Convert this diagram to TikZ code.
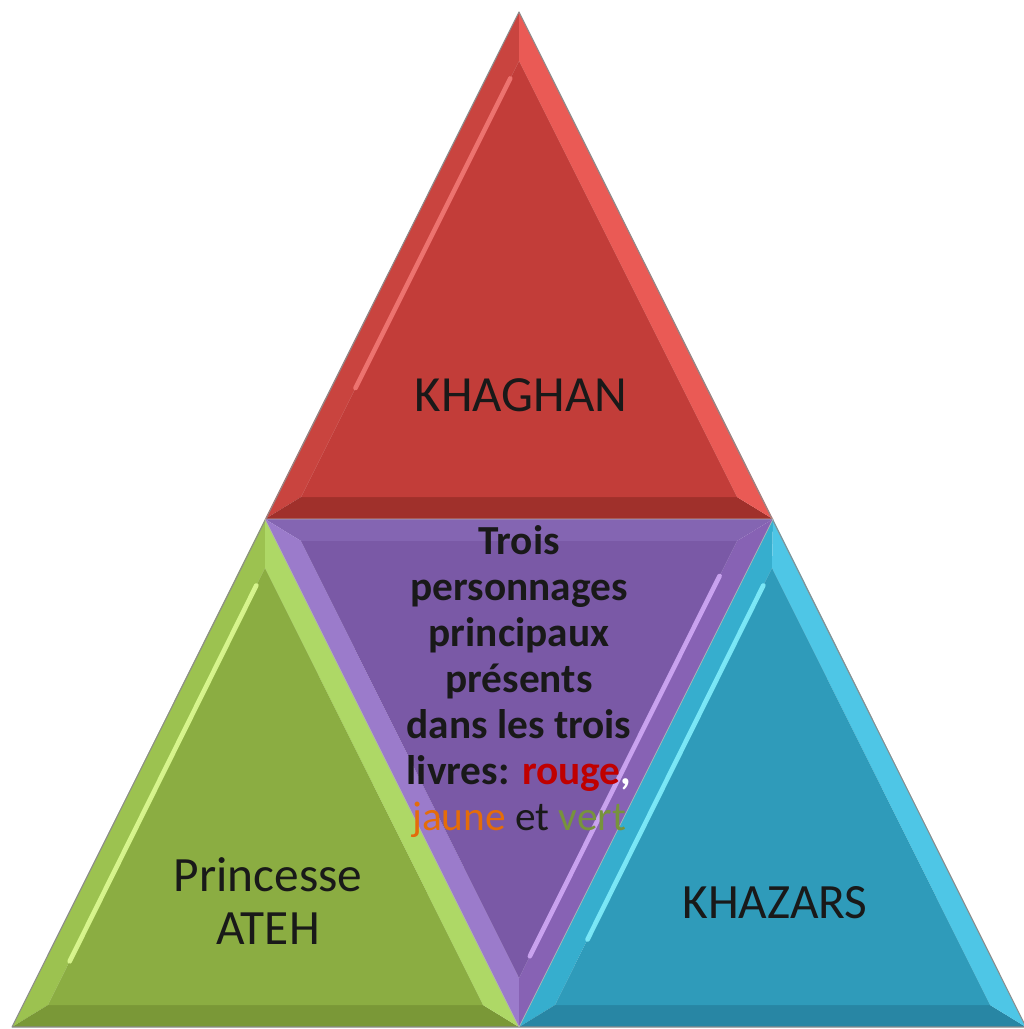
\documentclass[tikz,border=0pt]{standalone}
\usepackage{fontspec}
\setmainfont{Carlito}
\usetikzlibrary{calc}
\begin{document}
\begin{tikzpicture}[x=0.75pt,y=-0.75pt,
  lbl/.style={align=center,text=black!90,inner sep=0pt},
  hl/.style={line width=3.5pt,line cap=round,opacity=0.85}]
\useasboundingbox (0,0) rectangle (1024,1029);
% colours
\definecolor{rIn}{HTML}{C23D39}\definecolor{rL}{HTML}{C9443F}\definecolor{rR}{HTML}{EA5A55}\definecolor{rB}{HTML}{A0302B}\definecolor{rH}{HTML}{F47C78}
\definecolor{gIn}{HTML}{8BAD42}\definecolor{gL}{HTML}{9CC250}\definecolor{gR}{HTML}{AED866}\definecolor{gB}{HTML}{7A9837}\definecolor{gH}{HTML}{E2FF98}
\definecolor{pIn}{HTML}{7A59A6}\definecolor{pT}{HTML}{8465B2}\definecolor{pL}{HTML}{9B7BCB}\definecolor{pR}{HTML}{8762B4}\definecolor{pH}{HTML}{D5AEFA}
\definecolor{cIn}{HTML}{2F9BBA}\definecolor{cL}{HTML}{36AECE}\definecolor{cR}{HTML}{4EC6E6}\definecolor{cB}{HTML}{2886A4}\definecolor{cH}{HTML}{86F2FF}
\definecolor{tRed}{HTML}{C00000}\definecolor{tOr}{HTML}{E46C0A}\definecolor{tGr}{HTML}{77933C}
% outer points
\coordinate (A) at (519,12);
\coordinate (L) at (265,519);
\coordinate (R) at (773,519);
\coordinate (BL) at (12,1027);
\coordinate (BM) at (519,1027);
\coordinate (BR) at (1026,1027);
% inner points
\coordinate (Ra) at (519,61); \coordinate (Rl) at (301,497); \coordinate (Rr) at (737,497);
\coordinate (Ga) at (265,568); \coordinate (Gl) at (48,1005); \coordinate (Gr) at (483,1005);
\coordinate (Ca) at (772,568); \coordinate (Cl) at (555,1005); \coordinate (Cr) at (990,1005);
\coordinate (Pl) at (301,541); \coordinate (Pr) at (737,541); \coordinate (Pb) at (519,978);
% red
\fill[rL] (A)--(L)--(Rl)--(Ra)--cycle;
\fill[rB] (L)--(R)--(Rr)--(Rl)--cycle;
\fill[rR] (R)--(A)--(Ra)--(Rr)--cycle;
\fill[rIn] (Ra)--(Rl)--(Rr)--cycle;
\draw[hl,rH] ($(Ra)!0.04!(Rl)$) -- ($(Ra)!0.75!(Rl)$);
% green
\fill[gL] (L)--(BL)--(Gl)--(Ga)--cycle;
\fill[gB] (BL)--(BM)--(Gr)--(Gl)--cycle;
\fill[gR] (BM)--(L)--(Ga)--(Gr)--cycle;
\fill[gIn] (Ga)--(Gl)--(Gr)--cycle;
\draw[hl,gH] ($(Ga)!0.04!(Gl)$) -- ($(Ga)!0.9!(Gl)$);
% purple
\fill[pT] (L)--(R)--(Pr)--(Pl)--cycle;
\fill[pL] (L)--(BM)--(Pb)--(Pl)--cycle;
\fill[pR] (R)--(BM)--(Pb)--(Pr)--cycle;
\fill[pIn] (Pl)--(Pr)--(Pb)--cycle;
\draw[hl,pH] ($(Pr)!0.08!(Pb)$) -- ($(Pr)!0.95!(Pb)$);
% cyan
\fill[cL] (R)--(BM)--(Cl)--(Ca)--cycle;
\fill[cB] (BM)--(BR)--(Cr)--(Cl)--cycle;
\fill[cR] (BR)--(R)--(Ca)--(Cr)--cycle;
\fill[cIn] (Ca)--(Cl)--(Cr)--cycle;
\draw[hl,cH] ($(Ca)!0.04!(Cl)$) -- ($(Ca)!0.85!(Cl)$);
% outlines
\draw[black!45,line width=0.8pt,line join=round] (A)--(BL)--(BR)--cycle;
\draw[black!30,line width=0.5pt] (L)--(R) (L)--(BM)--(R);
% labels
\node[lbl,font=\fontsize{38}{40}\selectfont] (khaghan) at (521,395) {KHAGHAN};
\node[lbl,font=\fontsize{37}{40}\selectfont] (ateh) at (268,901) {Princesse\\ATEH};
\node[lbl,font=\fontsize{37}{40}\selectfont] (khazars) at (775,903) {KHAZARS};
\node[lbl,font=\fontsize{31}{34.5}\selectfont\bfseries] (centre) at (519,682)
  {Trois\\personnages\\principaux\\présents\\dans les trois\\livres: \textcolor{tRed}{rouge}\textcolor{white}{,}\\\mdseries\textcolor{tOr}{jaune} et \textcolor{tGr}{vert}};
\end{tikzpicture}
\end{document}
